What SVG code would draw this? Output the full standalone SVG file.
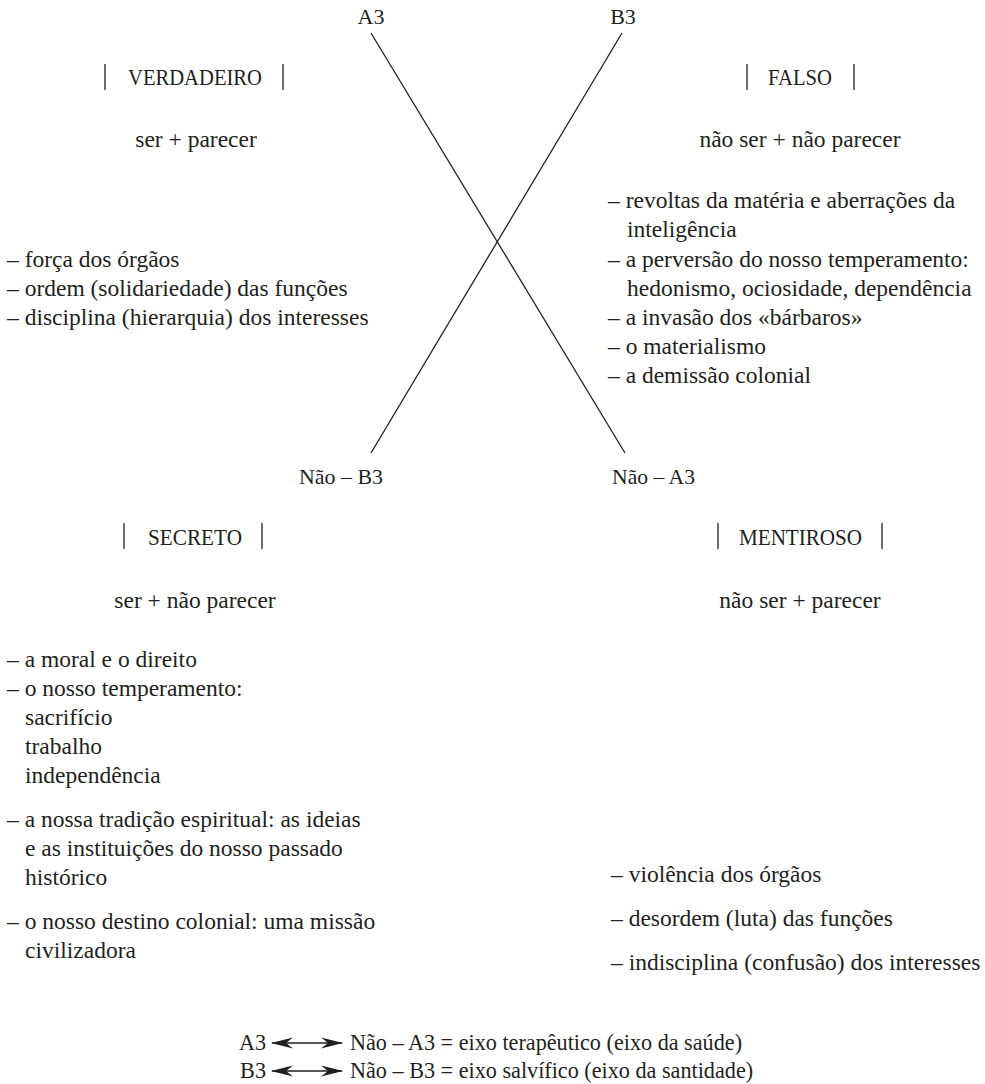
<svg xmlns="http://www.w3.org/2000/svg" width="985" height="1084" viewBox="0 0 985 1084" font-family="'Liberation Serif', 'Tinos', 'Noto Serif', 'DejaVu Serif', serif">
<style>
text{font-family:'Liberation Serif','Tinos','Noto Serif','DejaVu Serif',serif;fill:#231f20}
.b{font-size:23.5px}
.g{font-size:22.2px}
.h{font-size:23px}
.l{font-size:22px}
.m{text-anchor:middle}
.bar{stroke:#231f20;stroke-width:1.3}
.ln{stroke:#231f20;stroke-width:1.3;fill:none}
</style>
<defs>
<marker id="ah" viewBox="0 -6 22 12" refX="21" refY="0" markerWidth="22" markerHeight="12" markerUnits="userSpaceOnUse" orient="auto-start-reverse">
<path d="M0,-5.5 L22,0 L0,5.5 L7,0 Z" fill="#231f20"/>
</marker>
</defs>
<rect width="985" height="1084" fill="#fff"/>
<g id="connectors">
<line class="ln" x1="371" y1="33" x2="625" y2="453"/>
<line class="ln" x1="622" y1="33" x2="371" y2="453"/>
<line class="ln" x1="272" y1="1043" x2="342" y2="1043" marker-start="url(#ah)" marker-end="url(#ah)"/>
<line class="ln" x1="272" y1="1071" x2="342" y2="1071" marker-start="url(#ah)" marker-end="url(#ah)"/>
</g>
<g id="label-a3"><text class="l m" x="371" y="24">A3</text></g>
<g id="label-b3"><text class="l m" x="623" y="24">B3</text></g>
<g id="label-nao-b3"><text class="l" x="299" y="484" textLength="84" lengthAdjust="spacingAndGlyphs">Não – B3</text></g>
<g id="label-nao-a3"><text class="l" x="612" y="484" textLength="83" lengthAdjust="spacingAndGlyphs">Não – A3</text></g>
<g id="verdadeiro">
<line class="bar" x1="105" y1="64" x2="105" y2="90"/>
<line class="bar" x1="283" y1="64" x2="283" y2="90"/>
<text class="h" x="128" y="85" textLength="134" lengthAdjust="spacingAndGlyphs">VERDADEIRO</text>
<text class="b m" x="196" y="147">ser + parecer</text>
<text class="b" x="7" y="267">– força dos órgãos</text>
<text class="b" x="7" y="296">– ordem (solidariedade) das funções</text>
<text class="b" x="7" y="325">– disciplina (hierarquia) dos interesses</text>
</g>
<g id="falso">
<line class="bar" x1="747" y1="64" x2="747" y2="90"/>
<line class="bar" x1="854" y1="64" x2="854" y2="90"/>
<text class="h" x="768" y="85" textLength="64" lengthAdjust="spacingAndGlyphs">FALSO</text>
<text class="b m" x="800" y="147">não ser + não parecer</text>
<text class="b" x="608" y="208">– revoltas da matéria e aberrações da</text>
<text class="b" x="627" y="237">inteligência</text>
<text class="b" x="608" y="267">– a perversão do nosso temperamento:</text>
<text class="b" x="627" y="296">hedonismo, ociosidade, dependência</text>
<text class="b" x="608" y="325">– a invasão dos «bárbaros»</text>
<text class="b" x="608" y="354">– o materialismo</text>
<text class="b" x="608" y="383">– a demissão colonial</text>
</g>
<g id="secreto">
<line class="bar" x1="124" y1="523" x2="124" y2="549"/>
<line class="bar" x1="262" y1="523" x2="262" y2="549"/>
<text class="h" x="148" y="545" textLength="94" lengthAdjust="spacingAndGlyphs">SECRETO</text>
<text class="b m" x="195" y="608">ser + não parecer</text>
<text class="b" x="7" y="667">– a moral e o direito</text>
<text class="b" x="7" y="696">– o nosso temperamento:</text>
<text class="b" x="25" y="725">sacrifício</text>
<text class="b" x="25" y="754">trabalho</text>
<text class="b" x="25" y="783">independência</text>
<text class="b" x="7" y="827">– a nossa tradição espiritual: as ideias</text>
<text class="b" x="25" y="856">e as instituições do nosso passado</text>
<text class="b" x="25" y="885">histórico</text>
<text class="b" x="7" y="929">– o nosso destino colonial: uma missão</text>
<text class="b" x="25" y="958">civilizadora</text>
</g>
<g id="mentiroso">
<line class="bar" x1="718" y1="523" x2="718" y2="549"/>
<line class="bar" x1="882" y1="523" x2="882" y2="549"/>
<text class="h" x="739" y="545" textLength="123" lengthAdjust="spacingAndGlyphs">MENTIROSO</text>
<text class="b m" x="800" y="608">não ser + parecer</text>
<text class="b" x="611" y="882">– violência dos órgãos</text>
<text class="b" x="611" y="926">– desordem (luta) das funções</text>
<text class="b" x="611" y="970">– indisciplina (confusão) dos interesses</text>
</g>
<g id="legend">
<text class="g" x="266" y="1050" text-anchor="end">A3</text>
<text class="g" x="350" y="1050">Não – A3 = eixo terapêutico (eixo da saúde)</text>
<text class="g" x="266" y="1078" text-anchor="end">B3</text>
<text class="g" x="350" y="1078">Não – B3 = eixo salvífico (eixo da santidade)</text>
</g>
</svg>
